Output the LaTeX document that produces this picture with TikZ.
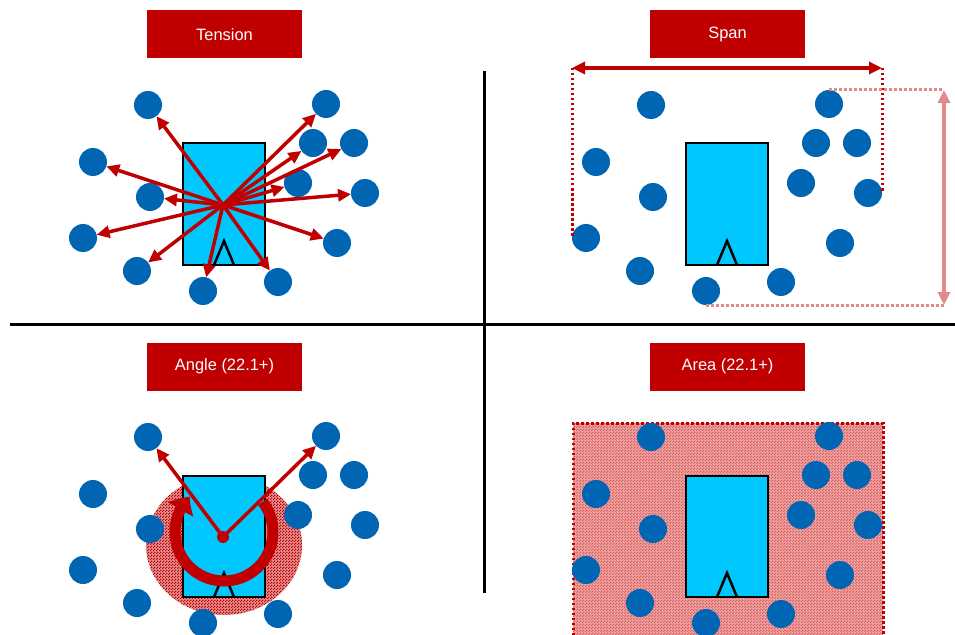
\documentclass[tikz,border=0pt]{standalone}
\usepackage{fontspec}
\setmainfont{Liberation Sans}
\usetikzlibrary{arrows.meta,patterns,bending}
\pgfdeclarepatternformonly{finechk}{\pgfpointorigin}{\pgfqpoint{3bp}{3bp}}{\pgfqpoint{3bp}{3bp}}{%
  \pgfpathrectangle{\pgfpointorigin}{\pgfqpoint{1.5bp}{1.5bp}}%
  \pgfpathrectangle{\pgfqpoint{1.5bp}{1.5bp}}{\pgfqpoint{1.5bp}{1.5bp}}%
  \pgfusepath{fill}}
\definecolor{tred}{HTML}{C00000}
\definecolor{tblue}{HTML}{0066B3}
\definecolor{tcyan}{HTML}{00C8FF}
\definecolor{tpink}{HTML}{E38A8A}
\definecolor{areafill}{HTML}{EDA6A6}
\definecolor{areachk}{HTML}{DC5C5C}
\definecolor{angfill}{HTML}{E49494}
\begin{document}
\begin{tikzpicture}[x=1bp,y=-1bp,
  titlebox/.style={fill=tred,text=white,minimum width=155bp,minimum height=48bp,inner sep=0pt,font=\fontsize{16.5}{20}\selectfont},
  ball/.style={circle,fill=tblue,minimum size=28bp,inner sep=0pt,outer sep=0pt},
  device/.style={draw=black,fill=tcyan,line width=2.5bp},
  ray/.style={draw=tred,line width=3.5bp,-{Triangle[length=13bp,width=12bp]}},
  divider/.style={draw=black,line width=3.5bp},
  reddot/.style={draw=tred,line width=3bp,dash pattern=on 2.5bp off 2.5bp},
  pinkdot/.style={draw=tpink,line width=3bp,dash pattern=on 2.5bp off 2.5bp}]
\useasboundingbox (0,0) rectangle (955,635);
\fill[white] (0,0) rectangle (955,635);

% dividers
\coordinate (vt) at (484.5,71);
\coordinate (vb) at (484.5,593);
\coordinate (hl) at (10,324.5);
\coordinate (hr) at (955,324.5);
\draw[divider] (vt) -- (vb);
\draw[divider] (hl) -- (hr);

% titles
\node[titlebox] (tt) at (224.5,34.5) {Tension};
\node[titlebox] (ts) at (727.5,34.5) {Span};
\node[titlebox] (ta) at (224.5,366.5) {Angle (22.1+)};
\node[titlebox] (tr) at (727.5,366.5) {Area (22.1+)};

% ---------- Tension ----------
\draw[device] (183,143) rectangle (265,265);
\draw[device,fill=none] (214,265) -- (224,241) -- (234,265);
\foreach \x/\y [count=\i] in {148/105,326/104,313/143,354/143,93/162,150/197,298/183,365/193,83/238,337/243,137/271,203/291,278/282}
  \node[ball] (t\i) at (\x,\y) {};
\coordinate (tc) at (223,205);
\foreach \i in {1,...,13}
  \draw[ray] (tc) -- (t\i);

% ---------- Span ----------
\begin{scope}[shift={(503,0)}]
\draw[device] (183,143) rectangle (265,265);
\draw[device,fill=none] (214,265) -- (224,241) -- (234,265);
\foreach \x/\y [count=\i] in {148/105,326/104,313/143,354/143,93/162,150/197,298/183,365/193,83/238,337/243,137/271,203/291,278/282}
  \node[ball] (s\i) at (\x,\y) {};
\end{scope}
\coordinate (spy) at (0,68);
\coordinate (spL) at (s9.west |- spy);
\coordinate (spR) at (s8.east |- spy);
\coordinate (pkx) at (944,0);
\coordinate (pkT) at (pkx |- s2.north);
\coordinate (pkB) at (pkx |- s12.south);
\draw[reddot] (spL) -- (s9.west);
\draw[reddot] (spR) -- (s8.east);
\draw[pinkdot] (s2.north) -- (pkT);
\draw[pinkdot] (s12.south) -- (pkB);
\draw[draw=tpink,line width=3.5bp,{Triangle[length=13bp,width=12bp]}-{Triangle[length=13bp,width=12bp]}] (pkT) -- (pkB);
\draw[draw=tred,line width=3.5bp,{Triangle[length=13bp,width=12bp]}-{Triangle[length=13bp,width=12bp]}] (spL) -- (spR);

% ---------- Angle ----------
\begin{scope}[shift={(0,332)}]
\fill[angfill] (224,213) ellipse [x radius=78, y radius=70];
\fill[pattern=finechk,pattern color=tred] (224,213) ellipse [x radius=78, y radius=70];
\draw[device] (183,144) rectangle (265,265);
\draw[device,fill=none] (214,265) -- (224,241) -- (234,265);
\foreach \x/\y [count=\i] in {148/105,326/104,313/143,354/143,93/162,150/197,298/183,365/193,83/238,337/243,137/271,203/291,278/282}
  \node[ball] (a\i) at (\x,\y) {};
\coordinate (ac) at (223,205);
\end{scope}
\draw[ray] (ac) -- (a1);
\draw[ray] (ac) -- (a2);
\draw[draw=tred,line width=11bp,-{Triangle[bend,length=16bp,width=28bp]}] (224,532) ++(-38:49) arc[start angle=-38,end angle=226,radius=49];
\node[circle,fill=tred,minimum size=12bp,inner sep=0pt] (acd) at (ac) {};

% ---------- Area ----------
\fill[areafill] (573,423) rectangle (883,640);
\fill[pattern=finechk,pattern color=areachk] (573,423) rectangle (883,640);
\draw[reddot] (573,640) -- (573,423) -- (883,423) -- (883,640);
\begin{scope}[shift={(503,332)}]
\draw[device] (183,144) rectangle (265,265);
\draw[device,fill=none] (214,265) -- (224,241) -- (234,265);
\foreach \x/\y [count=\i] in {148/105,326/104,313/143,354/143,93/162,150/197,298/183,365/193,83/238,337/243,137/271,203/291,278/282}
  \node[ball] (r\i) at (\x,\y) {};
\end{scope}
\end{tikzpicture}
\end{document}
